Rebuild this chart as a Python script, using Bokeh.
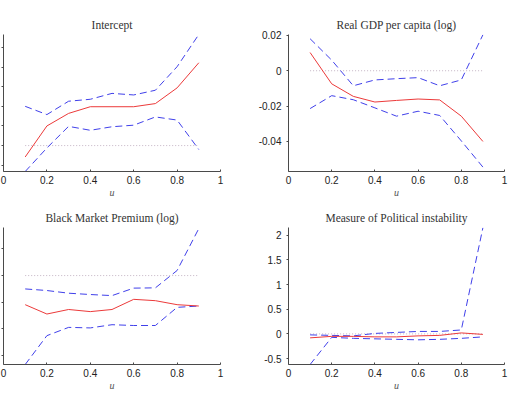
from bokeh.plotting import figure
from bokeh.layouts import column, row
from bokeh.models import Range1d, FixedTicker, CustomJSTickFormatter, CustomLabelingPolicy
from bokeh.embed import file_html
from bokeh.resources import INLINE

# quantile levels
u = [0.1, 0.2, 0.3, 0.4, 0.5, 0.6, 0.7, 0.8, 0.9]

# Intercept: estimate with upper / lower confidence bands
intercept_est = [-0.29, 0.50, 0.82, 0.99, 0.99, 0.99, 1.07, 1.47, 2.11]
intercept_hi = [1.00, 0.79, 1.13, 1.18, 1.33, 1.29, 1.41, 2.01, 2.83]
intercept_lo = [-0.66, -0.06, 0.49, 0.39, 0.48, 0.52, 0.73, 0.65, -0.10]

# Real GDP per capita (log)
gdp_est = [0.0103, -0.0074, -0.0145, -0.0177, -0.0168, -0.0160, -0.0165, -0.0257, -0.0400]
gdp_hi = [0.0181, 0.0060, -0.0085, -0.0052, -0.0045, -0.0039, -0.0085, -0.0052, 0.0203]
gdp_lo = [-0.0214, -0.0141, -0.0164, -0.0210, -0.0257, -0.0229, -0.0253, -0.0397, -0.0545]

# Black Market Premium (log)
bmp_est = [-0.0545, -0.0720, -0.0635, -0.0675, -0.0635, -0.0445, -0.0470, -0.0545, -0.0570]
bmp_hi = [-0.0250, -0.0280, -0.0330, -0.0355, -0.0375, -0.0235, -0.0230, 0.0095, 0.0880]
bmp_lo = [-0.1665, -0.1125, -0.0970, -0.0980, -0.0920, -0.0935, -0.0935, -0.0595, -0.0570]

# Measure of Political instability
pol_est = [-0.08, -0.05, -0.05, -0.06, -0.06, -0.04, -0.03, 0.02, -0.01]
pol_hi = [-0.02, -0.03, -0.04, 0.01, 0.03, 0.05, 0.05, 0.08, 2.15]
pol_lo = [-0.62, -0.07, -0.09, -0.10, -0.11, -0.12, -0.11, -0.09, -0.06]

x_ticks = [0, 0.2, 0.4, 0.6, 0.8, 1]

SERIF = "Liberation Serif"
SANS = "Liberation Sans"
AXIS_COL = "#4a4a4a"

fmt = CustomJSTickFormatter(code="return String(Number(tick.toFixed(6)));")
# ticks only, no value labels
no_labels = CustomLabelingPolicy(code="for (const i of indices) indices.unset(i); return indices;")


def panel(title, est, hi, lo, y_rng, y_ticks, width, height, borders,
          margin=None, y_labels=True):
    left, right, top, bottom = borders
    kw = {}
    if margin is not None:
        kw["margin"] = margin
    p = figure(width=width, height=height, output_backend="svg", toolbar_location=None,
               x_range=Range1d(0, 1), y_range=Range1d(*y_rng),
               min_border_left=left, min_border_right=right,
               min_border_top=top, min_border_bottom=bottom,
               title=title, **kw)
    p.title.text_font = SERIF
    p.title.text_font_size = "11.5px"
    p.title.text_font_style = "normal"
    p.title.text_color = "#333333"
    p.title.align = "center"
    p.title.standoff = 8
    p.outline_line_color = None
    p.xgrid.visible = False
    p.ygrid.visible = False
    p.background_fill_color = "white"
    p.border_fill_color = "white"

    # zero reference
    p.line([u[0], u[-1]], [0, 0], line_color="#c4b4c4", line_width=1, line_dash="1 2")
    # confidence bands
    p.line(u, hi, line_color="#4040ea", line_width=1, line_dash="7 4")
    p.line(u, lo, line_color="#4040ea", line_width=1, line_dash="7 4")
    # point estimate
    p.line(u, est, line_color="#ec3a3a", line_width=1)

    for ax in (p.xaxis[0], p.yaxis[0]):
        ax.axis_line_color = AXIS_COL
        ax.major_tick_line_color = AXIS_COL
        ax.minor_tick_line_color = None
        ax.major_label_text_font = SANS
        ax.major_label_text_font_size = "10px"
        ax.major_label_text_color = "#222222"
        ax.formatter = fmt

    p.xaxis.ticker = FixedTicker(ticks=x_ticks)
    p.xaxis.major_tick_in = 2
    p.xaxis.major_tick_out = 0
    p.xaxis.major_label_standoff = 4
    p.xaxis.axis_label = "u"
    p.xaxis.axis_label_text_font = SERIF
    p.xaxis.axis_label_text_font_style = "italic"
    p.xaxis.axis_label_text_font_size = "10px"
    p.xaxis.axis_label_text_color = "#555555"
    p.xaxis.axis_label_standoff = 0

    p.yaxis.ticker = FixedTicker(ticks=y_ticks)
    p.yaxis.major_tick_in = 0
    p.yaxis.major_tick_out = 2
    p.yaxis.major_label_standoff = 5
    if not y_labels:
        p.yaxis.major_label_policy = no_labels
    return p


# left column sits against the page edge
p1 = panel("Intercept", intercept_est, intercept_hi, intercept_lo,
           (-0.66, 2.83), [-0.5, 0, 0.5, 1, 1.5, 2, 2.5],
           278, 200, (43, 18, 34, 27), margin=(0, 0, 0, -40), y_labels=False)
p2 = panel("Real GDP per capita (log)", gdp_est, gdp_hi, gdp_lo,
           (-0.057, 0.0205), [-0.04, -0.02, 0, 0.02],
           272, 200, (50, 6, 34, 27))
p3 = panel("Black Market Premium (log)", bmp_est, bmp_hi, bmp_lo,
           (-0.1665, 0.09), [-0.15, -0.1, -0.05, 0, 0.05],
           278, 200, (43, 18, 27, 36), margin=(0, 0, 0, -40), y_labels=False)
p4 = panel("Measure of Political instability", pol_est, pol_hi, pol_lo,
           (-0.62, 2.156), [-0.5, 0, 0.5, 1, 1.5, 2],
           272, 200, (50, 6, 27, 36))

layout = column(row(p1, p2), row(p3, p4))
open("out.html", "w").write(file_html(layout, INLINE))
